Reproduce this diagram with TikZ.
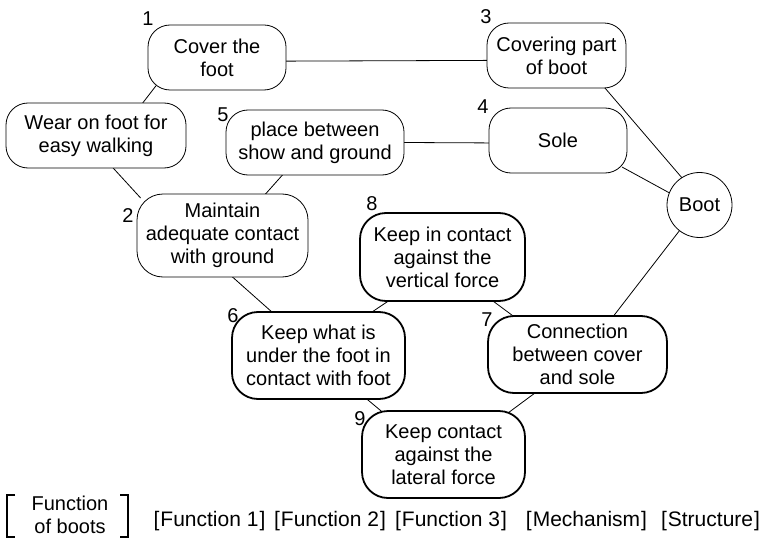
\documentclass[tikz,border=0pt]{standalone}
\usepackage{fontspec}
\setmainfont{Liberation Sans}
\usetikzlibrary{backgrounds}
\begin{document}
\begin{tikzpicture}[x=1pt,y=-1pt,
  txt/.style={font=\fontsize{20}{23}\selectfont},
  fn/.style={txt, draw, fill=white, rectangle, rounded corners=22pt,
    align=center, inner sep=0pt, line width=0.8pt, minimum height=65pt},
  tall/.style={rounded corners=26pt},
  bold/.style={line width=1.8pt},
  num/.style={txt, inner sep=0pt},
  link/.style={line width=0.8pt, shorten <=-6pt, shorten >=-6pt},
  brk/.style={line width=2.6pt},
  leg/.style={font=\fontsize{21}{23}\selectfont, inner sep=0pt}]
\useasboundingbox (0,0) rectangle (767,540);

\node[fn, minimum width=138pt] (n1) at (217,57.5) {Cover the\\foot};
\node[fn, minimum width=139pt] (n3) at (556.5,55.5) {Covering part\\of boot};
\node[fn, minimum width=180pt] (nW) at (96,135.5) {Wear on foot for\\easy walking};
\node[fn, minimum width=178pt] (n5) at (315,142.5) {place between\\show and ground};
\node[fn, minimum width=138pt] (n4) at (558,140.5) {Sole};
\node[txt, draw, fill=white, circle, minimum size=65pt, inner sep=0pt, line width=0.8pt] (nB) at (699.5,205) {Boot};
\node[fn, tall, minimum width=171pt, minimum height=83pt] (n2) at (222.5,235.5) {Maintain\\adequate contact\\with ground};
\node[fn, tall, bold, minimum width=165pt, minimum height=88pt] (n8) at (442.5,257) {Keep in contact\\against the\\vertical force};
\node[fn, tall, bold, minimum width=173pt, minimum height=87pt] (n6) at (318.5,355.5) {Keep what is\\under the foot in\\contact with foot};
\node[fn, tall, bold, minimum width=179pt, minimum height=77pt] (n7) at (577.5,354.5) {Connection\\between cover\\and sole};
\node[fn, tall, bold, minimum width=163pt, minimum height=87pt] (n9) at (443.5,454.5) {Keep contact\\against the\\lateral force};

\begin{pgfonlayer}{background}
\draw[link] (n1.-3) -- (n3.184);
\draw[link] (n1.-153) -- (nW.35);
\draw[link] (nW.-62) -- (n2.154);
\draw[link] (n5.-135) -- (n2.44);
\draw[link] (n5.0) -- (n4.182);
\draw[link] (n3.-34) -- (nB.123);
\draw[link] (n4.-23) -- (nB.158);
\draw[link] (nB.-128) -- (n7.47);
\draw[link] (n2.-76) -- (n6.137);
\draw[link] (n8.-141) -- (n6.39);
\draw[link] (n8.-41) -- (n7.149);
\draw[link] (n6.-42) -- (n9.145);
\draw[link] (n7.-138) -- (n9.33);
\end{pgfonlayer}

\node[num] (l1) at (148,19) {1};
\node[num] (l2) at (128,216) {2};
\node[num] (l3) at (486,17) {3};
\node[num] (l4) at (483,107) {4};
\node[num] (l5) at (223,115) {5};
\node[num] (l6) at (233,316) {6};
\node[num] (l7) at (487,320) {7};
\node[num] (l8) at (372,204) {8};
\node[num] (l9) at (360,419) {9};

\node[txt, inner sep=0pt, align=center] (lg) at (70,515) {Function\\of boots};
\draw[brk] (15,495) -- (7,495) -- (7,537) -- (15,537);
\draw[brk] (120,495) -- (128,495) -- (128,537) -- (120,537);
\node[leg] (f1) at (209.5,521) {[\kern1pt Function 1\kern1pt]};
\node[leg] (f2) at (330,521) {[\kern1pt Function 2\kern1pt]};
\node[leg] (f3) at (451,521) {[\kern1pt Function 3\kern1pt]};
\node[leg] (f4) at (586.5,521) {[\kern1pt Mechanism\kern1pt]};
\node[leg] (f5) at (710.5,521) {[\kern1pt Structure\kern1pt]};
\end{tikzpicture}
\end{document}
